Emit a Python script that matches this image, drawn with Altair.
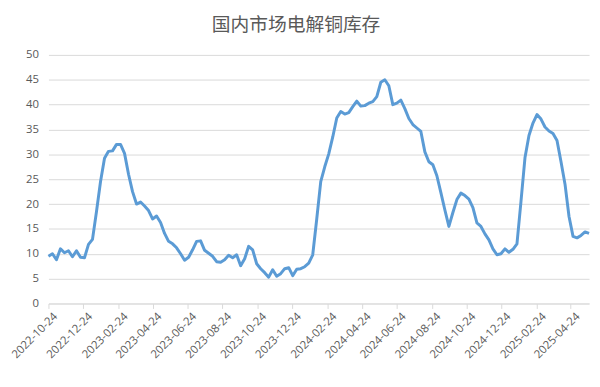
import altair as alt
import pandas as pd

# Weekly observations starting 2022-10-24
start_date = "2022-10-24"
inventory = [
    9.5, 10.0, 8.8, 11.0, 10.2, 10.6, 9.4, 10.6, 9.3, 9.2,
    11.9, 12.9, 18.5, 24.5, 29.2, 30.6, 30.7, 32.0, 32.0, 30.2,
    26.0, 22.5, 20.0, 20.4, 19.6, 18.7, 17.0, 17.6, 16.3, 14.1,
    12.5, 12.0, 11.2, 10.0, 8.7, 9.3, 10.8, 12.5, 12.6, 10.7,
    10.1, 9.5, 8.4, 8.3, 8.8, 9.7, 9.2, 9.8, 7.6, 9.0,
    11.5, 10.8, 8.0, 7.0, 6.2, 5.3, 6.8, 5.5, 6.0, 7.0,
    7.2, 5.6, 6.9, 7.0, 7.4, 8.1, 9.8, 17.0, 24.5, 27.5,
    30.1, 33.5, 37.3, 38.6, 38.1, 38.4, 39.6, 40.7, 39.7, 39.8,
    40.3, 40.6, 41.6, 44.5, 45.0, 43.8, 40.0, 40.3, 40.9, 39.2,
    37.2, 36.0, 35.3, 34.6, 30.5, 28.5, 27.9, 25.7, 22.3, 18.8,
    15.5, 18.3, 20.9, 22.2, 21.7, 21.0, 19.3, 16.2, 15.5, 14.0,
    12.8, 11.0, 9.8, 10.0, 11.0, 10.3, 10.9, 12.0, 20.5, 29.3,
    33.8, 36.3, 38.0, 37.1, 35.5, 34.7, 34.2, 32.8, 28.5, 24.0,
    17.5, 13.5, 13.2, 13.7, 14.4, 14.1,
]
dates = pd.date_range(start_date, periods=len(inventory), freq="7D").strftime("%Y-%m-%d").tolist()

tick_dates = [
    (2022, 10), (2022, 12), (2023, 2), (2023, 4), (2023, 6), (2023, 8),
    (2023, 10), (2023, 12), (2024, 2), (2024, 4), (2024, 6), (2024, 8),
    (2024, 10), (2024, 12), (2025, 2), (2025, 4),
]
y_ticks = [0, 5, 10, 15, 20, 25, 30, 35, 40, 45, 50]
title_text = "国内市场电解铜库存"

df = pd.DataFrame({"date": dates, "value": inventory})

x_axis = alt.Axis(
    values=[alt.DateTime(year=y, month=m, date=24, utc=True) for y, m in tick_dates],
    labelExpr="utcFormat(datum.value, '%Y-%m-%d')",
    labelAngle=-45,
    labelAlign="right",
    labelBaseline="top",
    labelFontSize=11.5,
    labelColor="#595959",
    labelFont="Open Sans",
    grid=False,
    domainColor="#d9d9d9",
    tickColor="#d9d9d9",
    tickSize=5,
    labelPadding=2,
    labelOffset=3,
    labelOverlap=False,
    labelBound=False,
    title=None,
)
y_axis = alt.Axis(
    values=y_ticks,
    labelFontSize=11.5,
    labelColor="#595959",
    labelFont="Open Sans",
    domain=False,
    ticks=False,
    labelPadding=10,
    gridColor="#d9d9d9",
    title=None,
)

chart = (
    alt.Chart(df)
    .mark_line(color="#5b9bd5", strokeWidth=3, strokeJoin="round")
    .encode(
        x=alt.X(
            "date:T",
            axis=x_axis,
            scale=alt.Scale(
                type="utc",
                domain=[
                    alt.DateTime(year=2022, month=10, date=24, utc=True),
                    alt.DateTime(year=2025, month=5, date=26, utc=True),
                ],
            ),
        ),
        y=alt.Y("value:Q", axis=y_axis, scale=alt.Scale(domain=[0, 50], nice=False)),
    )
    .properties(
        width=548,
        height=252,
        autosize=alt.AutoSizeParams(type="none"),
        padding={"left": 41, "top": 45, "right": 3, "bottom": 75},
        title=alt.TitleParams(
            text=title_text,
            fontSize=19,
            font="Noto Sans CJK SC",
            fontWeight="normal",
            color="#595959",
            anchor="middle",
            dx=-23,
            offset=14,
        ),
        background="white",
    )
    .configure_view(stroke=None)
)

chart.save("out.html", embed_options={"renderer": "svg", "actions": False})
